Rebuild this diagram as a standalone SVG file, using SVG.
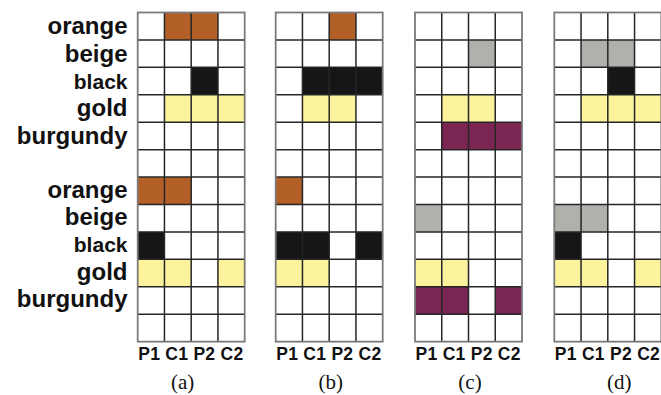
<svg xmlns="http://www.w3.org/2000/svg" xmlns:xlink="http://www.w3.org/1999/xlink" width="661" height="395" viewBox="0 0 661 395">
<style>
.lbl{font-family:"Liberation Sans",Arial,sans-serif;font-weight:bold;font-size:24px;fill:#111;text-anchor:end}
.col{font-family:"Liberation Sans",Arial,sans-serif;font-weight:bold;font-size:17.5px;fill:#111}
.cap{font-family:"Liberation Serif","Times New Roman",serif;font-size:21px;fill:#111;text-anchor:middle}
.o{fill:#b35f28}.g{fill:#b1b0ab}.k{fill:#161616}.y{fill:#fdf39d}.m{fill:#7b2652}
.gl{fill:none;stroke:#262626;stroke-width:1.5}
.bd{fill:none;stroke:#7a7a7a;stroke-width:1.8}
</style>
<defs>
<g id="grid">
<path class="gl" d="M26.75 12.5V341.66M53.5 12.5V341.66M80.25 12.5V341.66M0 39.93H107M0 67.36H107M0 94.79H107M0 122.22H107M0 149.65H107M0 177.08H107M0 204.51H107M0 231.94H107M0 259.37H107M0 286.8H107M0 314.23H107"/>
<rect class="bd" x="0" y="12.5" width="107" height="329.16"/>
</g>
</defs>
<rect width="661" height="395" fill="#fff"/>
<g id="labels">
<text class="lbl" x="127.5" y="34">orange</text>
<text class="lbl" x="127.5" y="61.5">beige</text>
<text class="lbl" x="127.5" y="88.5" style="font-size:21px">black</text>
<text class="lbl" x="127.5" y="116">gold</text>
<text class="lbl" x="127.5" y="143.5">burgundy</text>
<text class="lbl" x="127.5" y="197.5">orange</text>
<text class="lbl" x="127.5" y="224.5">beige</text>
<text class="lbl" x="127.5" y="252" style="font-size:21px">black</text>
<text class="lbl" x="127.5" y="279.5">gold</text>
<text class="lbl" x="127.5" y="307">burgundy</text>
</g>
<g id="panel-a" transform="translate(137.7,0)">
<rect class="o" x="26.75" y="12.5" width="53.5" height="27.43"/>
<rect class="k" x="53.5" y="67.36" width="26.75" height="27.43"/>
<rect class="y" x="26.75" y="94.79" width="80.25" height="27.43"/>
<rect class="o" x="0" y="177.08" width="53.5" height="27.43"/>
<rect class="k" x="0" y="231.94" width="26.75" height="27.43"/>
<rect class="y" x="0" y="259.37" width="53.5" height="27.43"/>
<rect class="y" x="80.25" y="259.37" width="26.75" height="27.43"/>
<use xlink:href="#grid"/>
<text class="col" x="0.5" y="360" textLength="105">P1 C1 P2 C2</text>
<text class="cap" x="45" y="389">(a)</text>
</g>
<g id="panel-b" transform="translate(275.7,0)">
<rect class="o" x="53.5" y="12.5" width="26.75" height="27.43"/>
<rect class="k" x="26.75" y="67.36" width="80.25" height="27.43"/>
<rect class="y" x="26.75" y="94.79" width="53.5" height="27.43"/>
<rect class="o" x="0" y="177.08" width="26.75" height="27.43"/>
<rect class="k" x="0" y="231.94" width="53.5" height="27.43"/>
<rect class="k" x="80.25" y="231.94" width="26.75" height="27.43"/>
<rect class="y" x="0" y="259.37" width="53.5" height="27.43"/>
<use xlink:href="#grid"/>
<text class="col" x="0.5" y="360" textLength="105">P1 C1 P2 C2</text>
<text class="cap" x="55" y="389">(b)</text>
</g>
<g id="panel-c" transform="translate(415,0)">
<rect class="g" x="53.5" y="39.93" width="26.75" height="27.43"/>
<rect class="y" x="26.75" y="94.79" width="53.5" height="27.43"/>
<rect class="m" x="26.75" y="122.22" width="80.25" height="27.43"/>
<rect class="g" x="0" y="204.51" width="26.75" height="27.43"/>
<rect class="y" x="0" y="259.37" width="53.5" height="27.43"/>
<rect class="m" x="0" y="286.8" width="53.5" height="27.43"/>
<rect class="m" x="80.25" y="286.8" width="26.75" height="27.43"/>
<use xlink:href="#grid"/>
<text class="col" x="0.5" y="360" textLength="105">P1 C1 P2 C2</text>
<text class="cap" x="55" y="389">(c)</text>
</g>
<g id="panel-d" transform="translate(554.3,0)">
<rect class="g" x="26.75" y="39.93" width="53.5" height="27.43"/>
<rect class="k" x="53.5" y="67.36" width="26.75" height="27.43"/>
<rect class="y" x="26.75" y="94.79" width="80.25" height="27.43"/>
<rect class="g" x="0" y="204.51" width="53.5" height="27.43"/>
<rect class="k" x="0" y="231.94" width="26.75" height="27.43"/>
<rect class="y" x="0" y="259.37" width="53.5" height="27.43"/>
<rect class="y" x="80.25" y="259.37" width="26.75" height="27.43"/>
<use xlink:href="#grid"/>
<text class="col" x="0.5" y="360" textLength="105">P1 C1 P2 C2</text>
<text class="cap" x="65" y="389">(d)</text>
</g>
</svg>
